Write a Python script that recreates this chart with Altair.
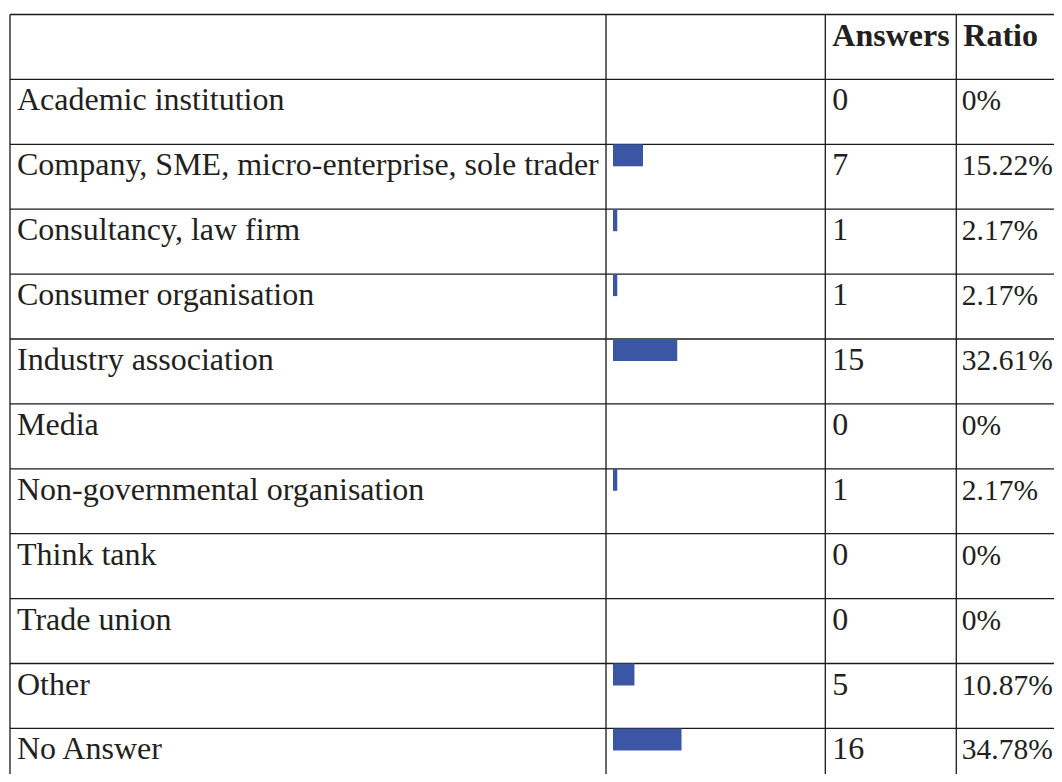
import altair as alt
import pandas as pd

# ---- data ----
categories = [
    "Academic institution",
    "Company, SME, micro-enterprise, sole trader",
    "Consultancy, law firm",
    "Consumer organisation",
    "Industry association",
    "Media",
    "Non-governmental organisation",
    "Think tank",
    "Trade union",
    "Other",
    "No Answer",
]
answers = [0, 7, 1, 1, 15, 0, 1, 0, 0, 5, 16]
ratios = [0, 15.22, 2.17, 2.17, 32.61, 0, 2.17, 0, 0, 10.87, 34.78]
headers = ["", "", "Answers", "Ratio"]

# ---- layout (pixels, plot coordinates) ----
W, H = 1046, 766
TOP = 6.5
ROW_H = 64.9
N_ROWS = 12
COL_EDGES = [2, 598, 817.3, 948.3]
PAD = 7
BAR_X0 = 605
BAR_PX_PER_PCT = 1.97
BAR_H = 22 / ROW_H
TXT = "#231f20"
FONT = "Liberation Serif"
FS = 32
FS_RATIO = 29.5

df = pd.DataFrame({
    "row": list(range(1, len(categories) + 1)),
    "label": categories,
    "answers": [str(a) for a in answers],
    "ratio": ratios,
    "ratio_txt": [f"{r:g}%" for r in ratios],
})
df["row2"] = df["row"] + BAR_H

yscale = alt.Scale(domain=[0, N_ROWS], range=[TOP, TOP + N_ROWS * ROW_H])
bscale = alt.Scale(domain=[0, 100], range=[BAR_X0, BAR_X0 + 100 * BAR_PX_PER_PCT])

hlines = pd.DataFrame({"b": list(range(0, N_ROWS + 1))})
vlines = pd.DataFrame({"x": COL_EDGES})
hdr = pd.DataFrame({"row": [0, 0], "h": headers[2:], "x": [COL_EDGES[2] + PAD, COL_EDGES[3] + PAD]})

h_rules = alt.Chart(hlines).mark_rule(color="#1a1a1a", strokeWidth=1.3).encode(
    y=alt.Y("b:Q", scale=yscale, axis=None),
    x=alt.value(COL_EDGES[0]),
    x2=alt.value(W + 20),
)

v_rules = alt.Chart(vlines).mark_rule(color="#1a1a1a", strokeWidth=1.3).encode(
    x=alt.X("x:Q", scale=None, axis=None),
    y=alt.Y(datum=0, scale=yscale, axis=None),
    y2=alt.Y2(datum=N_ROWS),
)

bars = alt.Chart(df).mark_rect(color="#3b56a5").encode(
    x=alt.X("ratio:Q", scale=bscale, axis=None),
    x2=alt.X2(datum=0),
    y=alt.Y("row:Q", scale=yscale, axis=None),
    y2="row2:Q",
)

def text_layer(field, x, size=FS):
    return alt.Chart(df).mark_text(
        font=FONT, fontSize=size, color=TXT, align="left", baseline="alphabetic",
        dy=31,
    ).encode(
        x=alt.value(x),
        y=alt.Y("row:Q", scale=yscale, axis=None),
        text=f"{field}:N",
    )

labels = text_layer("label", COL_EDGES[0] + PAD)
ans_txt = text_layer("answers", COL_EDGES[2] + PAD)
rat_txt = text_layer("ratio_txt", COL_EDGES[3] + PAD - 1.5, size=FS_RATIO)

hdr_txt = alt.Chart(hdr).mark_text(
    font=FONT, fontSize=FS, color=TXT, align="left", baseline="alphabetic",
    dy=31, fontWeight="bold",
).encode(
    x=alt.X("x:Q", scale=None, axis=None),
    y=alt.Y("row:Q", scale=yscale, axis=None),
    text="h:N",
)

chart = alt.layer(h_rules, v_rules, bars, labels, ans_txt, rat_txt, hdr_txt).resolve_scale(
    x="independent"
).properties(
    width=W, height=H, padding=0,
    autosize=alt.AutoSizeParams(type="none"),
    background="white",
).configure_view(stroke=None)

chart.save("out.html", embed_options={"renderer": "svg", "actions": False})
